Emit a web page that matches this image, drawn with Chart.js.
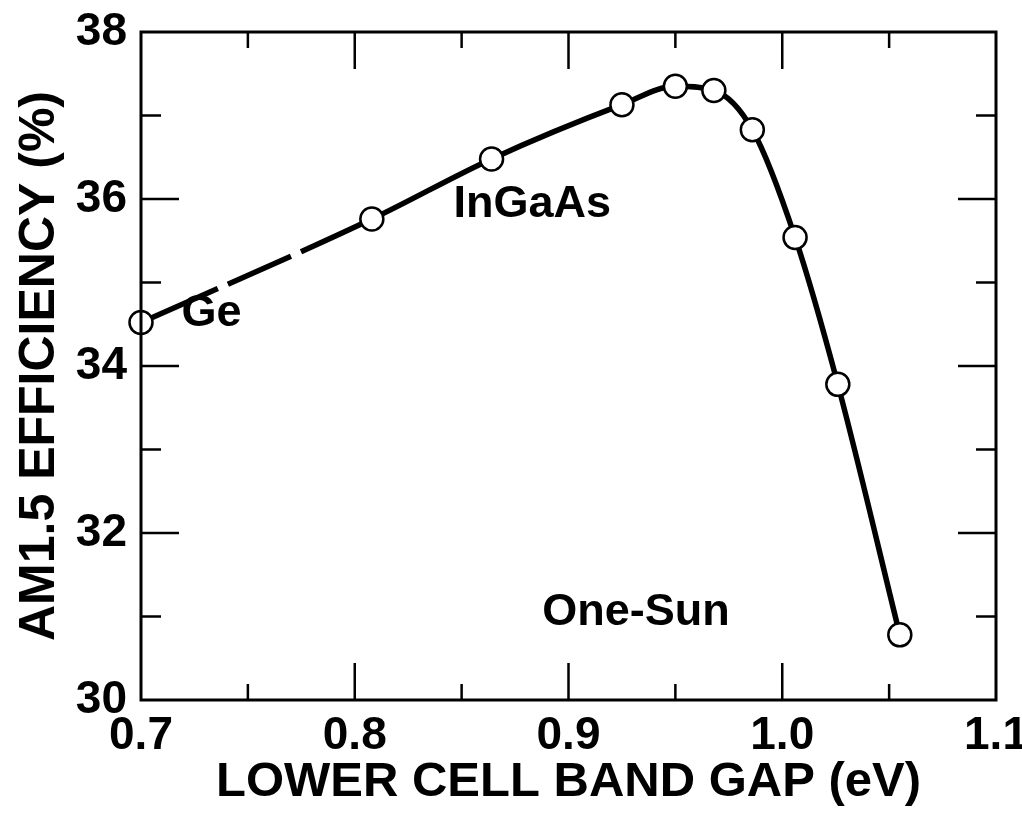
<!DOCTYPE html>
<html>
<head>
<meta charset="utf-8">
<script src="https://cdn.jsdelivr.net/npm/chart.js@4"></script>
<style>
  html, body { margin: 0; padding: 0; background: #fff; }
  #wrap { width: 1022px; height: 814px; }
</style>
</head>
<body>
<div id="wrap"><canvas id="chart" width="1022" height="814"></canvas></div>
<script>
// datos
const bandGap = [0.700, 0.808, 0.864, 0.925, 0.950, 0.968, 0.986, 1.006, 1.026, 1.055];
const efficiency = [34.52, 35.76, 36.48, 37.13, 37.35, 37.30, 36.83, 35.54, 33.78, 30.78];
const xTicks = [0.7, 0.8, 0.9, 1.0, 1.1];
const yTicks = [30, 32, 34, 36, 38];
const labels = [
  { text: 'Ge', x: 0.733, y: 34.63 },
  { text: 'InGaAs', x: 0.883, y: 35.93 },
  { text: 'One-Sun', x: 0.9316, y: 31.05 }
];

const FONT = '"Liberation Sans", Arial, Helvetica, sans-serif';

// marcas de los ejes hacia adentro
const innerTicks = {
  id: 'innerTicks',
  afterDraw(chart) {
    const { ctx, chartArea: a, scales: { x, y } } = chart;
    ctx.save();
    ctx.strokeStyle = '#000';
    ctx.lineWidth = 2.5;
    ctx.beginPath();
    for (let v = 0.75; v < 1.1; v += 0.05) {
      const px = x.getPixelForValue(v);
      const major = Math.abs(v * 10 - Math.round(v * 10)) < 1e-6;
      const len = major ? 37 : 16;
      ctx.moveTo(px, a.bottom); ctx.lineTo(px, a.bottom - len);
      ctx.moveTo(px, a.top); ctx.lineTo(px, a.top + len);
    }
    for (let v = 31; v < 38; v += 1) {
      const py = y.getPixelForValue(v);
      const len = v % 2 === 0 ? 38 : 20;
      ctx.moveTo(a.left, py); ctx.lineTo(a.left + len, py);
      ctx.moveTo(a.right, py); ctx.lineTo(a.right - len, py);
    }
    ctx.stroke();
    // marco
    ctx.lineWidth = 3;
    ctx.strokeRect(a.left, a.top, a.right - a.left, a.bottom - a.top);
    // textos dentro del grafico
    ctx.fillStyle = '#000';
    ctx.font = 'bold 45px ' + FONT;
    ctx.textAlign = 'center';
    ctx.textBaseline = 'middle';
    labels.forEach(l => {
      ctx.fillText(l.text, x.getPixelForValue(l.x), y.getPixelForValue(l.y));
    });
    ctx.restore();
  }
};

new Chart(document.getElementById('chart'), {
  type: 'scatter',
  data: {
    datasets: [{
      data: bandGap.map((b, i) => ({ x: b, y: efficiency[i] })),
      showLine: true,
      borderColor: '#000',
      borderWidth: 5.5,
      cubicInterpolationMode: 'monotone',
      pointRadius: 11.5,
      pointBackgroundColor: '#fff',
      pointBorderColor: '#000',
      pointBorderWidth: 2.5,
      clip: false,
      segment: {
        // tramo de Ge con guiones largos
        borderDash: ctx => ctx.p0DataIndex === 0 ? [84, 11, 69, 11, 400, 0] : undefined
      }
    }]
  },
  plugins: [innerTicks],
  options: {
    responsive: false,
    animation: false,
    layout: { padding: { top: 32, right: 26, left: 0, bottom: 0 } },
    plugins: { legend: { display: false }, tooltip: { enabled: false } },
    scales: {
      x: {
        type: 'linear',
        min: 0.7, max: 1.1,
        afterBuildTicks: s => { s.ticks = xTicks.map(v => ({ value: v })); },
        afterFit: s => { s.height = 114; s.paddingLeft = 0; s.paddingRight = 0; },
        grid: { display: false, drawTicks: false },
        border: { display: false },
        ticks: {
          color: '#000',
          padding: 9,
          maxRotation: 0,
          font: { family: FONT, size: 46, weight: 'bold' },
          callback: v => v.toFixed(1)
        },
        title: {
          display: true,
          text: 'LOWER CELL BAND GAP (eV)',
          color: '#000',
          padding: { top: 0, bottom: 2 },
          font: { family: FONT, size: 49, weight: 'bold' }
        }
      },
      y: {
        min: 30, max: 38,
        afterBuildTicks: s => { s.ticks = yTicks.map(v => ({ value: v })); },
        afterFit: s => { s.width = 141; s.paddingTop = 0; s.paddingBottom = 0; },
        grid: { display: false, drawTicks: false },
        border: { display: false },
        ticks: {
          color: '#000',
          padding: 14,
          font: { family: FONT, size: 46, weight: 'bold' }
        },
        title: {
          display: true,
          text: 'AM1.5 EFFICIENCY (%)',
          color: '#000',
          padding: { top: 10, bottom: 0 },
          font: { family: FONT, size: 50, weight: 'bold' }
        }
      }
    }
  }
});
</script>
</body>
</html>
